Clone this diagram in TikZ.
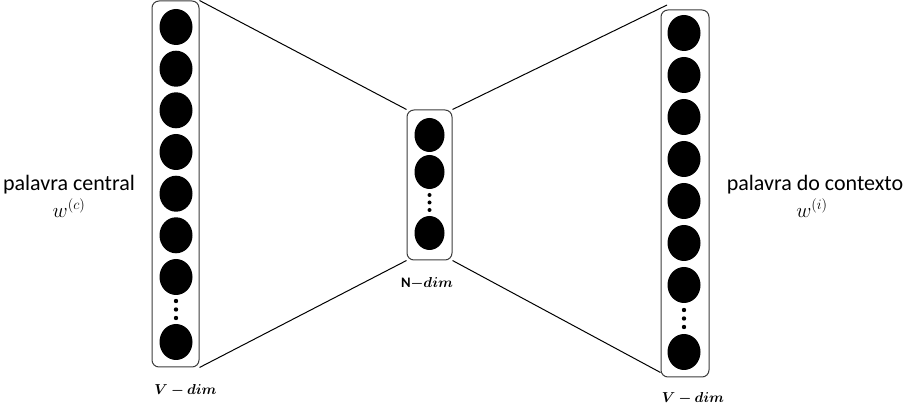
\documentclass[tikz,border=0pt]{standalone}
\usepackage{amsmath,amssymb,bm}
\usepackage{fontspec}
\setmainfont{Carlito}
\usepackage{tikz}
\usetikzlibrary{positioning,calc}
\definecolor{LayerGray}{RGB}{60,60,60}

\begin{document}
\begin{tikzpicture}[x=1pt,y=-1pt,line width=1pt,
    layer/.style={draw=LayerGray,line width=1pt,rounded corners=7pt,minimum width=#1,inner sep=0pt},
    unit/.style={fill=black},
    lbl/.style={font=\fontsize{22}{24}\selectfont},
    dimlbl/.style={font=\fontsize{14.5}{16}\selectfont}]
  \useasboundingbox (0,0) rectangle (906,406);
  % layers
  \node[layer=47pt,minimum height=366pt] (vin) at (175.5,184) {};
  \node[layer=45pt,minimum height=150pt] (nh) at (429.5,185) {};
  \node[layer=48pt,minimum height=367pt] (vout) at (685,193.5) {};
  % units
  \foreach \y in {27,68.7,110.3,152,193.7,235.3,277,342}
    \fill[unit] (176,\y) ellipse (16.5 and 18);
  \foreach \y in {301,309.5,318}
    \fill[unit] (176,\y) circle (2.2);
  \foreach \y in {135,172,233}
    \fill[unit] (429.5,\y) ellipse (15 and 17);
  \foreach \y in {195,202.5,210}
    \fill[unit] (429.5,\y) circle (2);
  \foreach \y in {33,75,117,159,201,243,285,352}
    \fill[unit] (684,\y) ellipse (16.5 and 18);
  \foreach \y in {310,318.5,327}
    \fill[unit] (684,\y) circle (2.2);
  % connections
  \coordinate (top) at (667,5);
  \draw (vin.north east) -- (nh.north west);
  \draw (vin.south east) -- (nh.south west);
  \draw (nh.north east) -- (top);
  \draw (nh.south east) -- ($(vout.south west)+(0,-5)$);
  % labels
  \node[dimlbl] (vdimin) at (185.5,390) {$\boldsymbol{V-dim}$};
  \node[dimlbl] (ndim) at (427,283) {\textbf{N}$\boldsymbol{\mathord{-}dim}$};
  \node[dimlbl] (vdimout) at (693,398) {$\boldsymbol{V-dim}$};
  \node[lbl] (wc) at (69,185) {palavra central};
  \node[lbl] (wcsym) at (69,208) {$w^{(c)}$};
  \node[lbl] (wi) at (815,185) {palavra do contexto};
  \node[lbl] (wisym) at (812,208) {$w^{(i)}$};
\end{tikzpicture}
\end{document}
